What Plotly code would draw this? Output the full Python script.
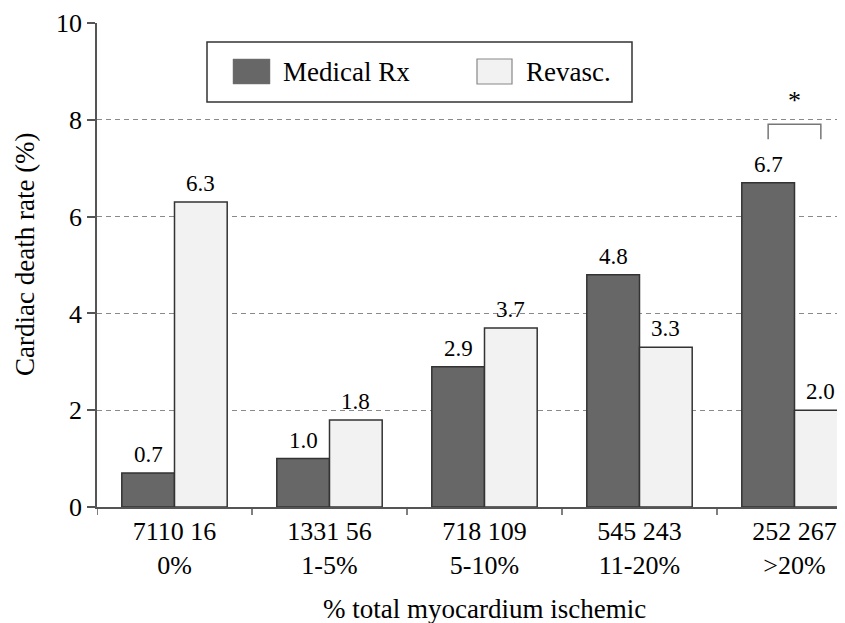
import plotly.graph_objects as go

categories = ["7110 16<br>0%", "1331 56<br>1-5%", "718 109<br>5-10%", "545 243<br>11-20%", "252 267<br>>20%"]
medical_rx = [0.7, 1.0, 2.9, 4.8, 6.7]
revasc = [6.3, 1.8, 3.7, 3.3, 2.0]
y_ticks = [0, 2, 4, 6, 8, 10]

FONT = "'Liberation Serif', 'Times New Roman', Times, serif"
DARK = "#676767"
LIGHT = "#f2f2f2"
EDGE = "#333333"

OFF = 8  # page body margin
W, H = 845 - OFF, 623 - OFF
L, T = 97 - OFF, 23 - OFF
B = 116
R = 0
pw, ph = W - L - R, H - T - B

def px(x):
    return (x - OFF - L) / pw

def py(y):
    return (H - B - (y - OFF)) / ph

bargap = 0.32
half = (1 - bargap) / 4  # offset of bar centres from category centre
cat_w = 155.0
x_max = -0.5 + pw / cat_w
idx = list(range(len(categories)))

fig = go.Figure()
fig.add_trace(go.Bar(
    x=idx, y=medical_rx, name="Medical Rx",
    marker=dict(color=DARK, line=dict(color=EDGE, width=1.5)),
))
fig.add_trace(go.Bar(
    x=idx, y=revasc, name="Revasc.",
    marker=dict(color=LIGHT, line=dict(color=EDGE, width=1.5)),
))

# value labels above bars
for i, v in zip(idx, medical_rx):
    fig.add_annotation(x=i - half, y=v, xref="x", yref="y", text=f"{v:.1f}",
                       showarrow=False, yanchor="bottom", yshift=4,
                       font=dict(family=FONT, size=23, color="black"))
for i, v in zip(idx, revasc):
    fig.add_annotation(x=i + half, y=v, xref="x", yref="y", text=f"{v:.1f}",
                       showarrow=False, yanchor="bottom", yshift=4,
                       font=dict(family=FONT, size=23, color="black"))

fig.update_layout(
    width=W, height=H,
    margin=dict(l=L, r=R, t=T, b=B),
    paper_bgcolor="white", plot_bgcolor="white",
    barmode="group", bargap=bargap, bargroupgap=0,
    showlegend=False,
    font=dict(family=FONT, color="black"),
    xaxis=dict(
        tickmode="array", tickvals=idx, ticktext=categories,
        range=[-0.5, x_max],
        showline=True, linecolor="#555555", linewidth=1.5,
        ticks="", showgrid=False, zeroline=False,
        tickfont=dict(family=FONT, size=26, color="black"),
    ),
    yaxis=dict(
        range=[0, 10], tickvals=y_ticks,
        showline=True, linecolor="#555555", linewidth=1.5,
        ticks="outside", ticklen=8, tickcolor="#555555", tickwidth=1.5,
        showgrid=True, gridcolor="#8a8a8a", gridwidth=1, griddash="5px,4px",
        zeroline=False,
        tickfont=dict(family=FONT, size=26, color="black"),
    ),
)

# category boundary ticks below the x axis
for i in idx:
    fig.add_shape(type="line", xref="x", yref="paper", x0=i - 0.5, x1=i - 0.5,
                  y0=0, y1=-8 / ph, line=dict(color="#555555", width=1.5))

# axis titles
fig.add_annotation(x=(len(categories) - 1) / 2, xref="x", y=py(609), yref="paper",
                   yanchor="middle", text="% total myocardium ischemic", showarrow=False,
                   font=dict(family=FONT, size=27, color="black"))
fig.add_annotation(x=px(25), xref="paper", y=py(254), yref="paper",
                   xanchor="center", yanchor="middle",
                   text="Cardiac death rate (%)", textangle=-90, showarrow=False,
                   font=dict(family=FONT, size=27, color="black"))

# legend box
fig.add_shape(type="rect", xref="paper", yref="paper",
              x0=px(207), x1=px(632), y0=py(102), y1=py(42),
              line=dict(color="#333333", width=1.5), fillcolor="white", layer="above")
fig.add_shape(type="rect", xref="paper", yref="paper",
              x0=px(233), x1=px(270), y0=py(84), y1=py(59),
              line=dict(color="#777777", width=0.5), fillcolor=DARK, layer="above")
fig.add_shape(type="rect", xref="paper", yref="paper",
              x0=px(477), x1=px(512), y0=py(84), y1=py(59),
              line=dict(color="#888888", width=1.2), fillcolor=LIGHT, layer="above")
fig.add_annotation(x=px(281), xref="paper", y=py(72), yref="paper",
                   xanchor="left", yanchor="middle",
                   text="Medical Rx", showarrow=False,
                   font=dict(family=FONT, size=27, color="black"))
fig.add_annotation(x=px(524), xref="paper", y=py(72), yref="paper",
                   xanchor="left", yanchor="middle",
                   text="Revasc.", showarrow=False,
                   font=dict(family=FONT, size=27, color="black"))

# significance bracket over the last group
g = len(categories) - 1
fig.add_shape(type="path", xref="x", yref="y",
              path=f"M {g - half} 7.6 L {g - half} 7.91 L {g + half} 7.91 L {g + half} 7.6",
              line=dict(color="#777777", width=1.5))
fig.add_annotation(x=g, xref="x", y=8.4, yref="y", yanchor="middle", text="*",
                   showarrow=False, font=dict(family=FONT, size=26, color="black"))

fig.write_html("out.html")
